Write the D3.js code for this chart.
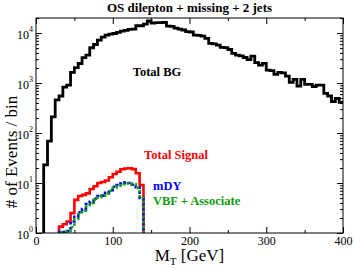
<!DOCTYPE html>
<html>
<head>
<meta charset="utf-8">
<script src="https://cdn.jsdelivr.net/npm/d3@7"></script>
<style>
  body { margin: 0; background: #fff; }
  svg text { font-family: "Liberation Serif", "DejaVu Serif", serif; }
</style>
</head>
<body>
<div class="svg-content"></div>
<script>
// bins are 5 GeV wide
const binWidth = 5;

// Total BG, bins from 10 to 400 GeV
const bgStart = 10;
const bgValues = [23, 69, 210, 460, 550, 830, 910, 1630, 2030, 2460,
  3210, 3630, 5080, 5900, 7200, 8300, 9100, 9550, 9800, 10300,
  10900, 11300, 11800, 12000, 14000, 14000, 15100, 17400, 15800, 16100,
  16100, 16300, 13800, 13600, 12500, 12000, 11500, 10700, 10500, 9100,
  9000, 8700, 7800, 6200, 6100, 5750, 5150, 5100, 4690, 3920,
  3630, 3500, 3240, 2950, 3470, 2560, 2290, 2470, 1820, 1770,
  1490, 1630, 1600, 1380, 1030, 1180, 870, 1180, 940, 940,
  850, 910, 910, 620, 550, 425, 490, 410];

// signal histograms, bins from 30 to 140 GeV
const sigStart = 30;
const totalSignal = [1.34, 1.5, 1.7, 2.5, 4.6, 5.5, 5.8, 6.2, 7.6, 8.6,
  10, 10.5, 11.2, 13, 15.1, 16.8, 18.8, 19.5, 19.7, 19, 15.7, 9.1];
const mDY = [1.05, 1.05, 1.1, 1.7, 2.1, 2.6, 3.0, 3.8, 4.2, 4.9,
  5.5, 5.6, 6.4, 7.2, 8.4, 9.1, 9.8, 10.2, 10.0, 9.2, 8.2, 5.0];
const vbf = [1.05, 1.05, 1.1, 1.3, 1.9, 2.4, 2.8, 3.4, 4.0, 4.6,
  5.2, 5.6, 6.2, 7.0, 8.0, 8.8, 9.5, 10.0, 9.8, 9.4, 8.0, 5.0];

const xTicks = [0, 100, 200, 300, 400];
const xMinorTicks = [50, 150, 250, 350];
const yTicks = [1, 10, 100, 1000, 10000];

const svgWidth = 354;
const svgHeight = 269;
const padLeft = 36, padRight = 343, padTop = 18, padBottom = 233;

let svg = d3.select(".svg-content")
            .append("svg")
            .attr("width", svgWidth)
            .attr("height", svgHeight);

const xScale = d3.scaleLinear().domain([0, 400]).range([padLeft, padRight]);
const yScale = d3.scaleLog().domain([1, 20000]).range([padBottom, padTop]).clamp(true);

// histogram outline: start at floor, step through bins, optionally drop to floor
function histPoints(start, values, drop) {
  let pts = [[start, 1]];
  values.forEach((v, i) => pts.push([start + i * binWidth, v]));
  let end = start + values.length * binWidth;
  pts.push([end, values[values.length - 1]]);
  if (drop) pts.push([end, 1]);
  return pts;
}

const line = d3.line()
               .x(d => xScale(d[0]))
               .y(d => yScale(d[1]))
               .curve(d3.curveStepAfter);

svg.append("clipPath").attr("id", "plot-clip")
   .append("rect")
   .attr("x", padLeft).attr("y", padTop)
   .attr("width", padRight - padLeft).attr("height", padBottom - padTop);

let plot = svg.append("g").attr("clip-path", "url(#plot-clip)");

plot.append("path")
    .attr("d", line(histPoints(bgStart, bgValues, false)))
    .attr("fill", "none")
    .attr("stroke", "#000")
    .attr("stroke-width", 2.8);

plot.append("path")
    .attr("d", line(histPoints(sigStart, totalSignal, true)))
    .attr("fill", "none")
    .attr("stroke", "#ff0000")
    .attr("stroke-width", 2.6);

plot.append("path")
    .attr("d", line(histPoints(sigStart, mDY, true)))
    .attr("fill", "none")
    .attr("stroke", "#0000ff")
    .attr("stroke-width", 2.6)
    .attr("stroke-dasharray", "2.5,2.5");

plot.append("path")
    .attr("d", line(histPoints(sigStart, vbf, true)))
    .attr("fill", "none")
    .attr("stroke", "#109a10")
    .attr("stroke-width", 2.6)
    .attr("stroke-dasharray", "2.5,2.5")
    .attr("stroke-dashoffset", 2.5);

// axes, ticks point inward on all four sides
svg.append("g")
   .attr("transform", "translate(0," + padBottom + ")")
   .call(d3.axisBottom(xScale).tickValues(xTicks).tickSize(-6).tickPadding(3).tickFormat(d3.format("d")))
   .call(g => g.select(".domain").remove())
   .call(g => g.selectAll("text").attr("font-size", 12).attr("fill", "#000"));

svg.append("g")
   .attr("transform", "translate(0," + padBottom + ")")
   .call(d3.axisBottom(xScale).tickValues(xMinorTicks).tickSize(-3).tickFormat(""))
   .call(g => g.select(".domain").remove());

svg.append("g")
   .attr("transform", "translate(0," + padTop + ")")
   .call(d3.axisTop(xScale).tickValues(xTicks).tickSize(-6).tickFormat(""))
   .call(g => g.select(".domain").remove());

svg.append("g")
   .attr("transform", "translate(0," + padTop + ")")
   .call(d3.axisTop(xScale).tickValues(xMinorTicks).tickSize(-3).tickFormat(""))
   .call(g => g.select(".domain").remove());

let minorY = [];
for (let e = 0; e < 5; e++) {
  for (let m = 2; m <= 9; m++) {
    let v = m * Math.pow(10, e);
    if (v <= 20000) minorY.push(v);
  }
}

svg.append("g")
   .attr("transform", "translate(" + padLeft + ",0)")
   .call(d3.axisLeft(yScale).tickValues(yTicks).tickSize(-6).tickPadding(3).tickFormat(""))
   .call(g => g.select(".domain").remove())
   .call(g => g.selectAll(".tick text").each(function(d) {
      let t = d3.select(this).attr("font-size", 12).attr("fill", "#000").attr("dy", "0.45em");
      t.append("tspan").text("10");
      t.append("tspan").attr("font-size", 8).attr("dy", "-0.9em").text(Math.round(Math.log10(d)));
   }));

svg.append("g")
   .attr("transform", "translate(" + padLeft + ",0)")
   .call(d3.axisLeft(yScale).tickValues(minorY).tickSize(-3).tickFormat(""))
   .call(g => g.select(".domain").remove());

svg.append("g")
   .attr("transform", "translate(" + padRight + ",0)")
   .call(d3.axisRight(yScale).tickValues(yTicks).tickSize(-6).tickFormat(""))
   .call(g => g.select(".domain").remove());

svg.append("g")
   .attr("transform", "translate(" + padRight + ",0)")
   .call(d3.axisRight(yScale).tickValues(minorY).tickSize(-3).tickFormat(""))
   .call(g => g.select(".domain").remove());

svg.append("rect")
   .attr("x", padLeft).attr("y", padTop)
   .attr("width", padRight - padLeft).attr("height", padBottom - padTop)
   .attr("fill", "none")
   .attr("stroke", "#000")
   .attr("stroke-width", 1);

// titles
svg.append("text")
   .attr("x", (padLeft + padRight) / 2).attr("y", 12)
   .attr("text-anchor", "middle")
   .attr("font-size", 13).attr("font-weight", "bold")
   .text("OS dilepton + missing + 2 jets");

let xTitle = svg.append("text")
   .attr("x", (padLeft + padRight) / 2).attr("y", 261)
   .attr("text-anchor", "middle")
   .attr("font-size", 17);
xTitle.append("tspan").text("M");
xTitle.append("tspan").attr("font-size", 11).attr("dy", 4).text("T");
xTitle.append("tspan").attr("dy", -4).text(" [GeV]");

svg.append("text")
   .attr("transform", "translate(17,152) rotate(-90)")
   .attr("text-anchor", "middle")
   .attr("font-size", 17)
   .text("# of Events / bin");

// labels inside the plot
const labels = [
  {text: "Total BG", x: 157, y: 76, color: "#000", anchor: "middle"},
  {text: "Total Signal", x: 176, y: 159, color: "#ff0000", anchor: "middle"},
  {text: "mDY", x: 153, y: 190, color: "#0000ff", anchor: "start"},
  {text: "VBF + Associate", x: 153, y: 205, color: "#109a10", anchor: "start"}
];

svg.selectAll(".label")
   .data(labels)
   .enter()
   .append("text")
   .attr("class", "label")
   .attr("x", d => d.x)
   .attr("y", d => d.y)
   .attr("text-anchor", d => d.anchor)
   .attr("fill", d => d.color)
   .attr("font-size", 12.5)
   .attr("font-weight", "bold")
   .text(d => d.text);
</script>
</body>
</html>
